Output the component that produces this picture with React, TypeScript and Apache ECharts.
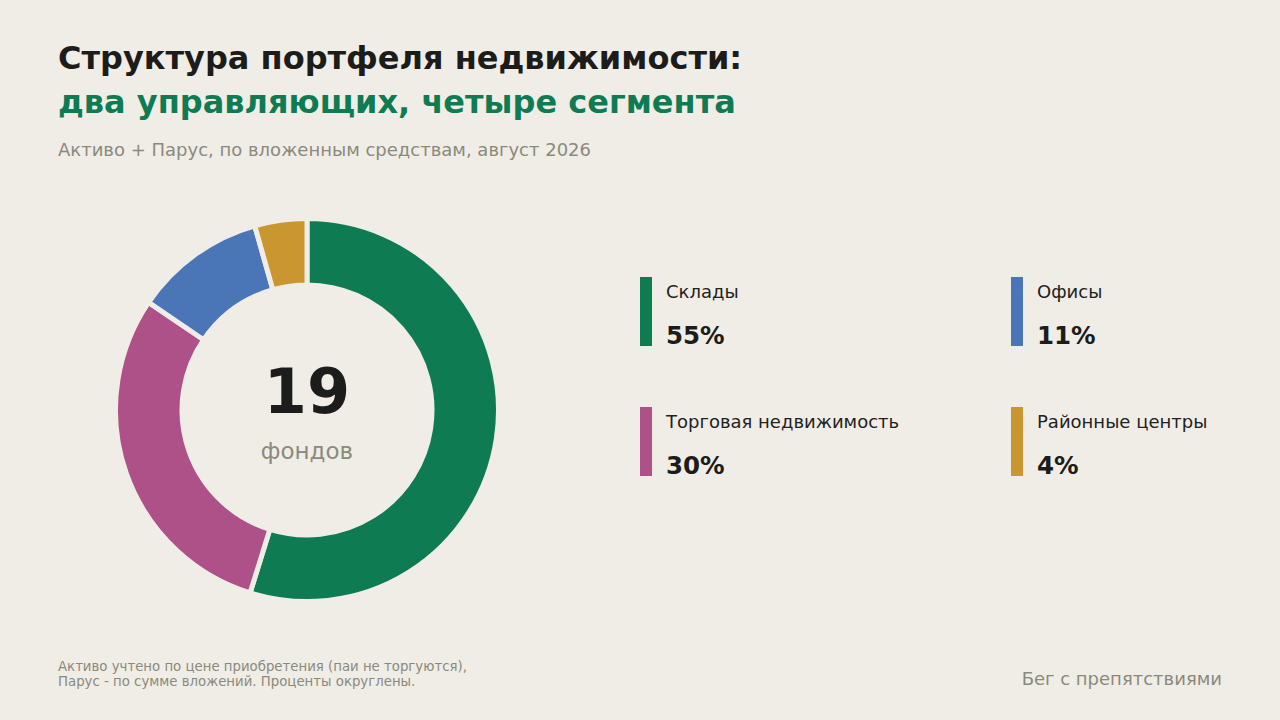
import React, { useEffect, useRef } from "react";
import * as echarts from "echarts";

const categories = ["Склады", "Торговая недвижимость", "Офисы", "Районные центры"];
// underlying shares as read from the ring (percent)
const shares = [54.8, 29.7, 11.1, 4.4];
// rounded shares as printed in the legend
const shareLabels = ["55%", "30%", "11%", "4%"];
const colors = ["#0f7b53", "#ae5189", "#4a76b8", "#c9962f"];
// legend order: left column then right column
const legendOrder = [0, 2, 1, 3];

const BG = "#f0ede6";
const FONT = "DejaVu Sans";

export default function App() {
  const ref = useRef<HTMLDivElement>(null);
  useEffect(() => {
    if (!ref.current) return;
    const chart = echarts.init(ref.current, null, { renderer: "svg" });

    const legendPos = [
      { x: 640, y: 277 },
      { x: 1011, y: 277 },
      { x: 640, y: 407 },
      { x: 1011, y: 407 },
    ];
    const legendGraphics: any[] = [];
    legendOrder.forEach((idx, i) => {
      const p = legendPos[i];
      legendGraphics.push({
        type: "rect",
        shape: { x: p.x, y: p.y, width: 12, height: 69 },
        style: { fill: colors[idx] },
      });
      legendGraphics.push({
        type: "text",
        x: p.x + 26,
        y: p.y + 14,
        style: {
          text: categories[idx],
          font: `18px '${FONT}'`,
          fill: "#222220",
          textVerticalAlign: "middle",
        },
      });
      legendGraphics.push({
        type: "text",
        x: p.x + 26,
        y: p.y + 58,
        style: {
          text: shareLabels[idx],
          font: `bold 24.5px '${FONT}'`,
          fill: "#1c1c1a",
          textVerticalAlign: "middle",
        },
      });
    });

    chart.setOption({
      animation: false,
      backgroundColor: BG,
      series: [
        {
          type: "pie",
          center: [307, 410],
          radius: [125, 191.5],
          startAngle: 90,
          clockwise: true,
          silent: true,
          label: { show: false },
          labelLine: { show: false },
          itemStyle: { borderColor: BG, borderWidth: 5 },
          data: categories.map((c, i) => ({
            name: c,
            value: shares[i],
            itemStyle: { color: colors[i] },
          })),
        },
      ],
      graphic: [
        {
          type: "text",
          x: 58,
          y: 58,
          style: {
            text: "Структура портфеля недвижимости:",
            font: `bold 32px '${FONT}'`,
            fill: "#1c1c1a",
            textVerticalAlign: "middle",
          },
        },
        {
          type: "text",
          x: 58,
          y: 102,
          style: {
            text: "два управляющих, четыре сегмента",
            font: `bold 32px '${FONT}'`,
            fill: "#0f7b53",
            textVerticalAlign: "middle",
          },
        },
        {
          type: "text",
          x: 58,
          y: 149,
          style: {
            text: "Активо + Парус, по вложенным средствам, август 2026",
            font: `18px '${FONT}'`,
            fill: "#8a8a7c",
            textVerticalAlign: "middle",
          },
        },
        {
          type: "text",
          x: 307,
          y: 391,
          style: {
            text: "19",
            font: `bold 62px '${FONT}'`,
            fill: "#1c1c1a",
            textAlign: "center",
            textVerticalAlign: "middle",
          },
        },
        {
          type: "text",
          x: 307,
          y: 451,
          style: {
            text: "фондов",
            font: `23px '${FONT}'`,
            fill: "#8a8a7c",
            textAlign: "center",
            textVerticalAlign: "middle",
          },
        },
        ...legendGraphics,
        {
          type: "text",
          x: 58,
          y: 666,
          style: {
            text: "Активо учтено по цене приобретения (паи не торгуются),",
            font: `13.3px '${FONT}'`,
            fill: "#8a8a7c",
            textVerticalAlign: "middle",
          },
        },
        {
          type: "text",
          x: 58,
          y: 681,
          style: {
            text: "Парус - по сумме вложений. Проценты округлены.",
            font: `13.3px '${FONT}'`,
            fill: "#8a8a7c",
            textVerticalAlign: "middle",
          },
        },
        {
          type: "text",
          x: 1222,
          y: 678,
          style: {
            text: "Бег с препятствиями",
            font: `18px '${FONT}'`,
            fill: "#8a8a7c",
            textAlign: "right",
            textVerticalAlign: "middle",
          },
        },
      ],
    });
    return () => chart.dispose();
  }, []);

  return (
    <div
      ref={ref}
      style={{ position: "fixed", left: 0, top: 0, width: 1280, height: 720 }}
    />
  );
}
